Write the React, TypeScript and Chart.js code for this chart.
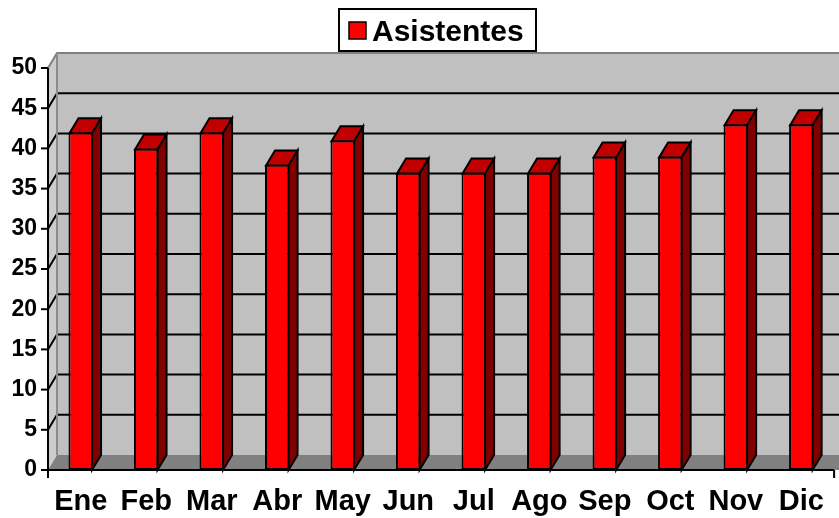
import React, { useEffect, useRef } from "react";
import { Chart, registerables } from "chart.js";

Chart.register(...registerables);

const categories = ["Ene", "Feb", "Mar", "Abr", "May", "Jun", "Jul", "Ago", "Sep", "Oct", "Nov", "Dic"];
const asistentes = [42, 40, 42, 38, 41, 37, 37, 37, 39, 39, 43, 43];
const seriesLabel = "Asistentes";
const yMin = 0;
const yMax = 50;
const yStep = 5;

const DX = 9;
const DY = 15;
const FONT = "'Liberation Sans', Arial, Helvetica, sans-serif";

const threeDPlugin = {
  id: "threeD",
  beforeDatasetsDraw(chart: any) {
    const { ctx, chartArea } = chart;
    const { left, right, top, bottom } = chartArea;
    const y = chart.scales.y;
    const W = chart.width;
    ctx.save();
    // back wall
    ctx.fillStyle = "#c0c0c0";
    ctx.fillRect(left + DX, top - DY, W - left, bottom - top);
    // left wall
    ctx.fillStyle = "#cccccc";
    ctx.beginPath();
    ctx.moveTo(left, top);
    ctx.lineTo(left + DX, top - DY);
    ctx.lineTo(left + DX, bottom - DY);
    ctx.lineTo(left, bottom);
    ctx.closePath();
    ctx.fill();
    // floor
    ctx.fillStyle = "#808080";
    ctx.beginPath();
    ctx.moveTo(left, bottom);
    ctx.lineTo(left + DX, bottom - DY);
    ctx.lineTo(W + DX, bottom - DY);
    ctx.lineTo(W, bottom);
    ctx.closePath();
    ctx.fill();

    // gridlines
    ctx.lineWidth = 2;
    for (const t of y.ticks) {
      const v = t.value;
      const yy = y.getPixelForValue(v);
      if (v > yMin && v < yMax) {
        ctx.strokeStyle = "#000";
        ctx.beginPath();
        ctx.moveTo(left, yy);
        ctx.lineTo(left + DX, yy - DY);
        ctx.lineTo(W + DX, yy - DY);
        ctx.stroke();
      }
    }
    // wall edges (gray)
    ctx.strokeStyle = "#808080";
    ctx.beginPath();
    ctx.moveTo(left, top);
    ctx.lineTo(left + DX, top - DY);
    ctx.lineTo(W + DX, top - DY);
    ctx.stroke();
    ctx.strokeStyle = "#8c8c8c";
    ctx.beginPath();
    ctx.moveTo(left + DX, top - DY);
    ctx.lineTo(left + DX, bottom - DY);
    ctx.stroke();

    // front vertical axis
    ctx.strokeStyle = "#000";
    ctx.beginPath();
    ctx.moveTo(left, top);
    ctx.lineTo(left, bottom + 8);
    ctx.stroke();
    // y tick marks
    for (const t of y.ticks) {
      const yy = y.getPixelForValue(t.value);
      ctx.beginPath();
      ctx.moveTo(left - 7, yy);
      ctx.lineTo(left, yy);
      ctx.stroke();
    }
    // x axis line
    ctx.beginPath();
    ctx.moveTo(left, bottom);
    ctx.lineTo(right, bottom);
    ctx.stroke();
    ctx.beginPath();
    ctx.moveTo(right, bottom);
    ctx.lineTo(right, bottom + 8);
    ctx.stroke();
    ctx.restore();
  },
  afterDatasetsDraw(chart: any) {
    const { ctx } = chart;
    const meta = chart.getDatasetMeta(0);
    ctx.save();
    ctx.lineWidth = 2;
    ctx.strokeStyle = "#000";
    ctx.lineJoin = "miter";
    for (const el of meta.data) {
      const p = el.getProps(["x", "y", "width", "base"], true);
      const x1 = p.x - p.width / 2 + 1;
      const x2 = p.x + p.width / 2 - 1;
      const yt = p.y + 1;
      const yb = p.base;
      // top face
      ctx.fillStyle = "#c00000";
      ctx.beginPath();
      ctx.moveTo(x1, yt);
      ctx.lineTo(x1 + DX, yt - DY);
      ctx.lineTo(x2 + DX, yt - DY);
      ctx.lineTo(x2, yt);
      ctx.closePath();
      ctx.fill();
      ctx.stroke();
      // side face
      ctx.fillStyle = "#800000";
      ctx.beginPath();
      ctx.moveTo(x2, yt);
      ctx.lineTo(x2 + DX, yt - DY);
      ctx.lineTo(x2 + DX, yb - DY);
      ctx.lineTo(x2, yb);
      ctx.closePath();
      ctx.fill();
      ctx.stroke();
    }
    ctx.restore();
  },
  afterDraw(chart: any) {
    const { ctx } = chart;
    ctx.save();
    const bx = 338, by = 8, bw = 199, bh = 44;
    ctx.fillStyle = "#fff";
    ctx.fillRect(bx, by, bw, bh);
    ctx.lineWidth = 2;
    ctx.strokeStyle = "#000";
    ctx.strokeRect(bx + 1, by + 1, bw - 2, bh - 2);
    // swatch
    ctx.fillStyle = "#ff0000";
    ctx.fillRect(349, 22, 17, 17);
    ctx.lineWidth = 1.5;
    ctx.strokeRect(349, 22, 17, 17);
    ctx.fillStyle = "#000";
    ctx.font = `bold 30px ${FONT}`;
    ctx.textBaseline = "alphabetic";
    ctx.textAlign = "left";
    ctx.fillText(seriesLabel, 372, 41);
    ctx.restore();
  },
};

export default function App() {
  const ref = useRef<HTMLCanvasElement | null>(null);
  useEffect(() => {
    document.body.style.margin = "0";
    Chart.defaults.font.family = FONT;
    const chart = new Chart(ref.current as HTMLCanvasElement, {
      type: "bar",
      data: {
        labels: categories,
        datasets: [
          {
            label: seriesLabel,
            data: asistentes,
            backgroundColor: "#ff0000",
            borderColor: "#000000",
            borderWidth: 2,
            borderSkipped: false,
            barPercentage: 0.375,
            categoryPercentage: 1,
          },
        ],
      },
      options: {
        responsive: false,
        animation: false,
        layout: { padding: { top: 68, right: 2, left: 0, bottom: 0 } },
        plugins: { legend: { display: false }, tooltip: { enabled: false }, title: { display: false } },
        scales: {
          x: {
            ticks: { color: "#000", font: { size: 29, weight: "bold" }, padding: 15, maxRotation: 0, autoSkip: false },
            grid: { display: false, drawTicks: false },
            border: { display: false },
            afterFit(s: any) { s.height = 48; },
          },
          y: {
            min: yMin,
            max: yMax,
            ticks: { stepSize: yStep, color: "#000", font: { size: 23, weight: "bold" }, padding: 11 },
            grid: { display: false, drawTicks: false },
            border: { display: false },
            afterFit(s: any) { s.width = 48; },
          },
        },
      },
      plugins: [threeDPlugin],
    });
    return () => chart.destroy();
  }, []);
  return <canvas ref={ref} width={839} height={518} style={{ display: "block" }} />;
}
